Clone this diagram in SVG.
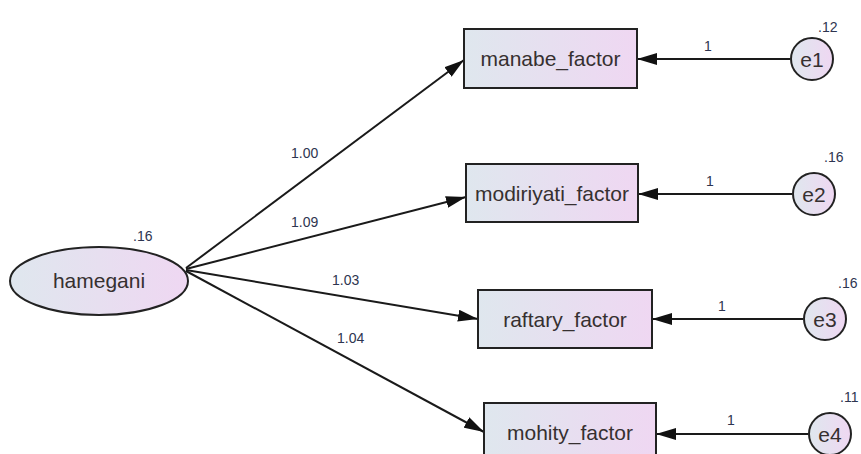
<svg xmlns="http://www.w3.org/2000/svg" width="861" height="454" viewBox="0 0 861 454">
<style>
.shape{fill:url(#g);stroke:#222;stroke-width:2}
.nt{font-family:"Liberation Sans",Arial,sans-serif;font-size:21px;fill:#363030;text-anchor:middle}
.lb{font-family:"Liberation Sans",Arial,sans-serif;font-size:14px;fill:#2e3550}
.con{stroke:#1a1a1a;stroke-width:2;fill:none;marker-end:url(#ah)}
</style>
<defs>
<linearGradient id="g" x1="0" y1="0" x2="1" y2="0">
<stop offset="0" stop-color="#dfe7ee"/>
<stop offset="1" stop-color="#efd7f2"/>
</linearGradient>
<marker id="ah" viewBox="0 0 20 12" refX="20" refY="6" markerWidth="20" markerHeight="12" markerUnits="userSpaceOnUse" orient="auto">
<path d="M0,0 L20,6 L0,12 Z" fill="#111"/>
</marker>
</defs>
<rect width="861" height="454" fill="#fff"/>
<g id="connectors">
<line class="con" x1="186" y1="268" x2="464" y2="60"/>
<line class="con" x1="186" y1="269" x2="466" y2="197"/>
<line class="con" x1="186" y1="270" x2="478" y2="319"/>
<line class="con" x1="186" y1="271" x2="484" y2="432"/>
<line class="con" x1="790" y1="59" x2="637" y2="59"/>
<line class="con" x1="792" y1="194" x2="638" y2="194"/>
<line class="con" x1="803" y1="319" x2="652" y2="319"/>
<line class="con" x1="808" y1="434" x2="656" y2="434"/>
<text class="lb" x="291" y="158">1.00</text>
<text class="lb" x="291" y="227">1.09</text>
<text class="lb" x="332" y="285">1.03</text>
<text class="lb" x="337" y="343">1.04</text>
<text class="lb" x="704" y="51">1</text>
<text class="lb" x="706" y="186">1</text>
<text class="lb" x="718" y="311">1</text>
<text class="lb" x="727" y="425">1</text>
</g>
<g id="hamegani">
<ellipse class="shape" cx="99" cy="281" rx="89" ry="34"/>
<text class="nt" x="99" y="288">hamegani</text>
<text class="lb" x="133" y="241">.16</text>
</g>
<g id="manabe_factor">
<rect class="shape" x="464" y="29" width="173" height="59"/>
<text class="nt" x="550.5" y="66">manabe_factor</text>
</g>
<g id="modiriyati_factor">
<rect class="shape" x="466" y="164" width="172" height="58"/>
<text class="nt" x="552" y="200.5">modiriyati_factor</text>
</g>
<g id="raftary_factor">
<rect class="shape" x="478" y="290" width="174" height="58"/>
<text class="nt" x="565" y="326.5">raftary_factor</text>
</g>
<g id="mohity_factor">
<rect class="shape" x="484" y="403" width="172" height="60"/>
<text class="nt" x="570" y="439.5">mohity_factor</text>
</g>
<g id="e1">
<circle class="shape" cx="812" cy="59" r="21"/>
<text class="nt" x="812" y="66.5">e1</text>
<text class="lb" x="818" y="32">.12</text>
</g>
<g id="e2">
<circle class="shape" cx="814" cy="194" r="21"/>
<text class="nt" x="814" y="201.5">e2</text>
<text class="lb" x="824" y="162">.16</text>
</g>
<g id="e3">
<circle class="shape" cx="825" cy="319" r="21"/>
<text class="nt" x="825" y="326.5">e3</text>
<text class="lb" x="838" y="288">.16</text>
</g>
<g id="e4">
<circle class="shape" cx="830" cy="434" r="21"/>
<text class="nt" x="830" y="441.5">e4</text>
<text class="lb" x="840" y="402">.11</text>
</g>
</svg>
